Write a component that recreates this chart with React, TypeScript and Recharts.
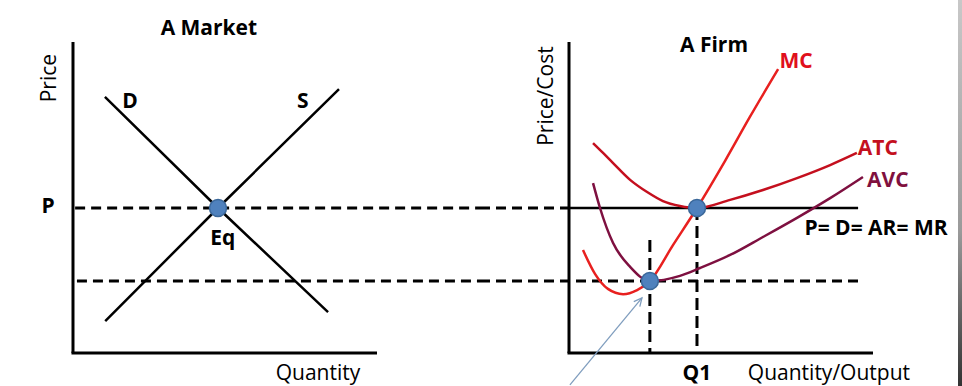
import React from 'react';
import { ComposedChart, Line, XAxis, YAxis, ReferenceLine, ReferenceDot, Scatter } from 'recharts';

// ---- Market panel data (quantity, price) ----
const demandLine = [
  { q: 1.05, p: 8.83 },
  { q: 4.77, p: 5.0 },
  { q: 8.39, p: 1.41 },
];
const supplyLine = [
  { q: 1.06, p: 1.1 },
  { q: 4.77, p: 5.0 },
  { q: 8.75, p: 9.1 },
];
const marketEq = [{ q: 4.77, p: 5 }];

// ---- Firm panel data (quantity, cost) ----
const mcCurve = [
  { q: 0.46, p: 3.55 },
  { q: 0.86, p: 2.72 },
  { q: 1.28, p: 2.21 },
  { q: 1.78, p: 2.03 },
  { q: 2.24, p: 2.17 },
  { q: 2.66, p: 2.48 },
  { q: 3.42, p: 3.72 },
  { q: 4.21, p: 5.0 },
  { q: 5.13, p: 6.62 },
  { q: 5.95, p: 8.14 },
  { q: 6.88, p: 9.79 },
];
const atcCurve = [
  { q: 0.79, p: 7.24 },
  { q: 1.12, p: 6.9 },
  { q: 1.45, p: 6.55 },
  { q: 2.01, p: 5.97 },
  { q: 2.57, p: 5.55 },
  { q: 3.09, p: 5.24 },
  { q: 3.65, p: 5.07 },
  { q: 4.21, p: 5.0 },
  { q: 5.3, p: 5.28 },
  { q: 6.38, p: 5.62 },
  { q: 7.5, p: 6.03 },
  { q: 8.59, p: 6.48 },
  { q: 9.47, p: 6.9 },
];
const avcCurve = [
  { q: 0.79, p: 5.86 },
  { q: 1.02, p: 5.0 },
  { q: 1.45, p: 3.79 },
  { q: 2.01, p: 2.97 },
  { q: 2.66, p: 2.48 },
  { q: 3.65, p: 2.66 },
  { q: 4.31, p: 2.93 },
  { q: 5.3, p: 3.38 },
  { q: 6.38, p: 4.0 },
  { q: 7.5, p: 4.66 },
  { q: 8.59, p: 5.34 },
  { q: 9.67, p: 6.07 },
];
const firmPoints = [
  { q: 4.21, p: 5 },
  { q: 2.66, p: 2.48 },
];

// key levels
const marketPrice = 5;
const shutdownPrice = 2.48;
const q1 = 4.21;
const qShutdown = 2.66;
const axisLength = 10;
const axisHeight = 10.72;
const mrEnd = 9.51;

const Y_DOMAIN: [number, number] = [-1.138, 12.172];
const LEFT_X: [number, number] = [-2.401, 13.388];
const RIGHT_X: [number, number] = [-2.928, 12.928];

const FONT = "'Open Sans', 'Noto Sans', sans-serif";
const DASH = '10 6';

const txt = (value: string, opts: any = {}) => ({
  value,
  position: 'center' as const,
  fill: opts.fill || '#000',
  fontSize: opts.fontSize || 21,
  fontWeight: opts.fontWeight || 'normal',
  fontFamily: FONT,
  angle: opts.angle,
});

const Dot = (props: any) => (
  <circle cx={props.cx} cy={props.cy} r={8.5} fill="#4F81BD" stroke="#3A6799" strokeWidth={1.5} />
);

const ArrowShape = (props: any) => {
  const { x1, y1, x2, y2 } = props;
  if ([x1, y1, x2, y2].some((v) => typeof v !== 'number')) return null;
  const ang = Math.atan2(y2 - y1, x2 - x1);
  const L = 9;
  const a1 = ang + Math.PI - 0.45;
  const a2 = ang + Math.PI + 0.45;
  return (
    <g>
      <line x1={x1} y1={y1} x2={x2} y2={y2} stroke="#7F9DBE" strokeWidth={1.3} />
      <polyline
        points={`${x2 + L * Math.cos(a1)},${y2 + L * Math.sin(a1)} ${x2},${y2} ${x2 + L * Math.cos(a2)},${y2 + L * Math.sin(a2)}`}
        fill="none"
        stroke="#7F9DBE"
        strokeWidth={1.3}
      />
    </g>
  );
};

const Label = ({ x, y, t }: any) => (
  <ReferenceDot x={x} y={y} r={1} fill="none" stroke="none" ifOverflow="visible" label={t} />
);

export default function App() {
  return (
    <div style={{ position: 'absolute', left: 0, top: 0, width: 962, height: 386, background: '#fff', overflow: 'hidden' }}>
      <div style={{ position: 'absolute', left: 0, top: 0 }}>
        <ComposedChart width={480} height={386} margin={{ top: 0, right: 0, bottom: 0, left: 0 }}>
          <XAxis type="number" dataKey="q" domain={LEFT_X} hide allowDataOverflow />
          <YAxis type="number" dataKey="p" domain={Y_DOMAIN} hide allowDataOverflow />
          <ReferenceLine segment={[{ x: 0.07, y: marketPrice }, { x: LEFT_X[1], y: marketPrice }]} stroke="#000" strokeWidth={3} strokeDasharray={DASH} ifOverflow="visible" />
          <ReferenceLine segment={[{ x: 0.13, y: shutdownPrice }, { x: LEFT_X[1], y: shutdownPrice }]} stroke="#000" strokeWidth={3} strokeDasharray={DASH} ifOverflow="visible" />
          <ReferenceLine segment={[{ x: 0, y: 0 }, { x: 0, y: axisHeight }]} stroke="#000" strokeWidth={3} ifOverflow="visible" />
          <ReferenceLine segment={[{ x: -0.05, y: 0 }, { x: axisLength, y: 0 }]} stroke="#000" strokeWidth={3} ifOverflow="visible" />
          <Line data={demandLine} dataKey="p" type="linear" stroke="#000" strokeWidth={2.5} dot={false} activeDot={false} isAnimationActive={false} />
          <Line data={supplyLine} dataKey="p" type="linear" stroke="#000" strokeWidth={2.5} dot={false} activeDot={false} isAnimationActive={false} />
          <Scatter data={marketEq} dataKey="p" shape={Dot} isAnimationActive={false} />
          {Label({ x: 4.47, y: 11.21, t: txt('A Market', { fontWeight: 'bold' }) })}
          {Label({ x: -0.82, y: 9.48, t: txt('Price', { angle: -90 }) })}
          {Label({ x: -0.82, y: 5.1, t: txt('P', { fontWeight: 'bold' }) })}
          {Label({ x: 1.88, y: 8.72, t: txt('D', { fontWeight: 'bold' }) })}
          {Label({ x: 7.56, y: 8.72, t: txt('S', { fontWeight: 'bold' }) })}
          {Label({ x: 4.93, y: 3.97, t: txt('Eq', { fontWeight: 'bold' }) })}
          {Label({ x: 8.06, y: -0.69, t: txt('Quantity') })}
        </ComposedChart>
      </div>
      <div style={{ position: 'absolute', left: 480, top: 0 }}>
        <ComposedChart width={482} height={386} margin={{ top: 0, right: 0, bottom: 0, left: 0 }}>
          <XAxis type="number" dataKey="q" domain={RIGHT_X} hide allowDataOverflow />
          <YAxis type="number" dataKey="p" domain={Y_DOMAIN} hide allowDataOverflow />
          <ReferenceLine segment={[{ x: RIGHT_X[0], y: marketPrice }, { x: 0, y: marketPrice }]} stroke="#000" strokeWidth={3} strokeDasharray={DASH} ifOverflow="visible" />
          <ReferenceLine segment={[{ x: 0, y: marketPrice }, { x: mrEnd, y: marketPrice }]} stroke="#000" strokeWidth={2.5} ifOverflow="visible" />
          <ReferenceLine segment={[{ x: RIGHT_X[0], y: shutdownPrice }, { x: mrEnd, y: shutdownPrice }]} stroke="#000" strokeWidth={3} strokeDasharray={DASH} ifOverflow="visible" />
          <ReferenceLine segment={[{ x: qShutdown, y: 3.9 }, { x: qShutdown, y: 0 }]} stroke="#000" strokeWidth={3} strokeDasharray="12 6" ifOverflow="visible" />
          <ReferenceLine segment={[{ x: q1, y: marketPrice }, { x: q1, y: 0 }]} stroke="#000" strokeWidth={3} strokeDasharray="12 6" ifOverflow="visible" />
          <ReferenceLine segment={[{ x: 0, y: 0 }, { x: 0, y: axisHeight }]} stroke="#000" strokeWidth={3} ifOverflow="visible" />
          <ReferenceLine segment={[{ x: -0.05, y: 0 }, { x: axisLength, y: 0 }]} stroke="#000" strokeWidth={3} ifOverflow="visible" />
          <ReferenceLine segment={[{ x: 0.03, y: -1.1 }, { x: 2.4, y: 1.9 }]} shape={ArrowShape} ifOverflow="visible" />
          <Line data={atcCurve} dataKey="p" type="monotone" stroke="#C40F1E" strokeWidth={2.5} dot={false} activeDot={false} isAnimationActive={false} />
          <Line data={avcCurve} dataKey="p" type="monotone" stroke="#7E1040" strokeWidth={2.5} dot={false} activeDot={false} isAnimationActive={false} />
          <Line data={mcCurve} dataKey="p" type="monotone" stroke="#E8201F" strokeWidth={2.5} dot={false} activeDot={false} isAnimationActive={false} />
          <Scatter data={firmPoints} dataKey="p" shape={Dot} isAnimationActive={false} />
          {Label({ x: 4.77, y: 10.65, t: txt('A Firm', { fontWeight: 'bold' }) })}
          {Label({ x: -0.76, y: 8.86, t: txt('Price/Cost', { angle: -90 }) })}
          {Label({ x: 7.47, y: 10.1, t: txt('MC', { fontWeight: 'bold', fill: '#E0101C' }) })}
          {Label({ x: 10.16, y: 7.07, t: txt('ATC', { fontWeight: 'bold', fill: '#C4101E' }) })}
          {Label({ x: 10.49, y: 5.97, t: txt('AVC', { fontWeight: 'bold', fill: '#80103E' }) })}
          {Label({ x: 10.1, y: 4.31, t: txt('P= D= AR= MR', { fontWeight: 'bold' }) })}
          {Label({ x: 4.21, y: -0.69, t: txt('Q1', { fontWeight: 'bold' }) })}
          {Label({ x: 8.55, y: -0.66, t: txt('Quantity/Output') })}
        </ComposedChart>
      </div>
      <div style={{ position: 'absolute', left: 958, top: 0, width: 4, height: 386, background: 'linear-gradient(#c8c8c8, #9a9a9a 60%, #333)' }} />
    </div>
  );
}
